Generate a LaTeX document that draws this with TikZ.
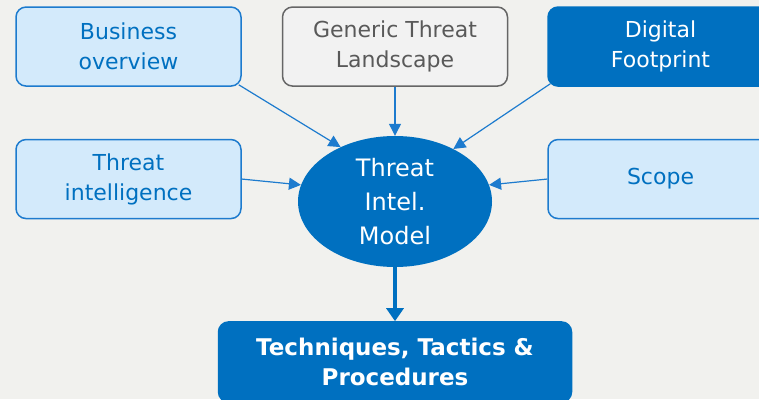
\documentclass[tikz,border=0pt]{standalone}
\usepackage{fontspec}
\setmainfont{DejaVu Sans}
\usepackage{tikz}
\usetikzlibrary{shapes.geometric,arrows.meta,positioning}
\definecolor{tiblue}{HTML}{0070C0}
\definecolor{tilight}{HTML}{D3EAFB}
\definecolor{tiline}{HTML}{1D7BCE}
\definecolor{tigrey}{HTML}{F2F2F2}
\definecolor{tigreyline}{HTML}{666666}
\definecolor{tigreytext}{HTML}{595959}
\definecolor{tiback}{HTML}{F1F1EE}
\tikzstyle{lightbox} = [ rectangle, rounded corners=10pt, minimum width = 225pt, %
                         minimum height = 79pt, inner sep=0pt, align=center, %
                         draw = tiline, line width=1.5pt, fill = tilight, text = tiblue, %
                         font=\fontsize{22}{30}\selectfont ]
\tikzstyle{greybox} = [ lightbox, draw = tigreyline, fill = tigrey, text = tigreytext ]
\tikzstyle{darkbox} = [ lightbox, draw = tiblue, fill = tiblue, text = white ]
\tikzstyle{arrow} = [tiline, line width=1.2pt, -{Triangle[length=12pt,width=12pt]}]
\tikzstyle{bigarrow} = [tiblue, line width=4pt, -{Triangle[length=13pt,width=17pt]}]
\begin{document}
\begin{tikzpicture}
      % Background
      \fill [tiback] (0,0) rectangle (759pt,399pt);
      \useasboundingbox (0,0) rectangle (759pt,399pt);
      \clip (0,0) rectangle (759pt,399pt);
      % Centre
      \node (model) [ellipse, fill=tiblue, text=white, minimum width=194pt, %
                     minimum height=131pt, inner sep=0pt, align=center, %
                     font=\fontsize{24}{34}\selectfont] at (395pt,197.5pt) {Threat\\Intel.\\Model};
      % Boxes
      \node (generic) [greybox,above=49pt of model]       {Generic Threat\\Landscape};
      \node (business) [lightbox,left=40pt of generic]    {Business\\overview};
      \node (digital) [darkbox,right=39pt of generic]     {Digital\\Footprint};
      \node (intel) [lightbox,below=52pt of business]     {Threat\\intelligence};
      \node (scope) [lightbox,below=52pt of digital]      {Scope};
      \node (ttp) [darkbox,below=54pt of model,minimum width=353pt,minimum height=80pt, %
                   font=\fontsize{23}{30}\selectfont\bfseries] {Techniques, Tactics \&\\Procedures};
      % Arrows
      \draw [arrow] ([xshift=-3pt,yshift=2pt]business.south east) -- (model.135);
      \draw [arrow] (generic.south) -- (model.north);
      \draw [arrow] ([xshift=3pt,yshift=3pt]digital.south west) -- (model.42);
      \draw [arrow] (intel.east) -- (model.170);
      \draw [arrow] (scope.west) -- (model.10);
      \draw [bigarrow] (model.south) -- (ttp.north);
    \end{tikzpicture}
\end{document}
